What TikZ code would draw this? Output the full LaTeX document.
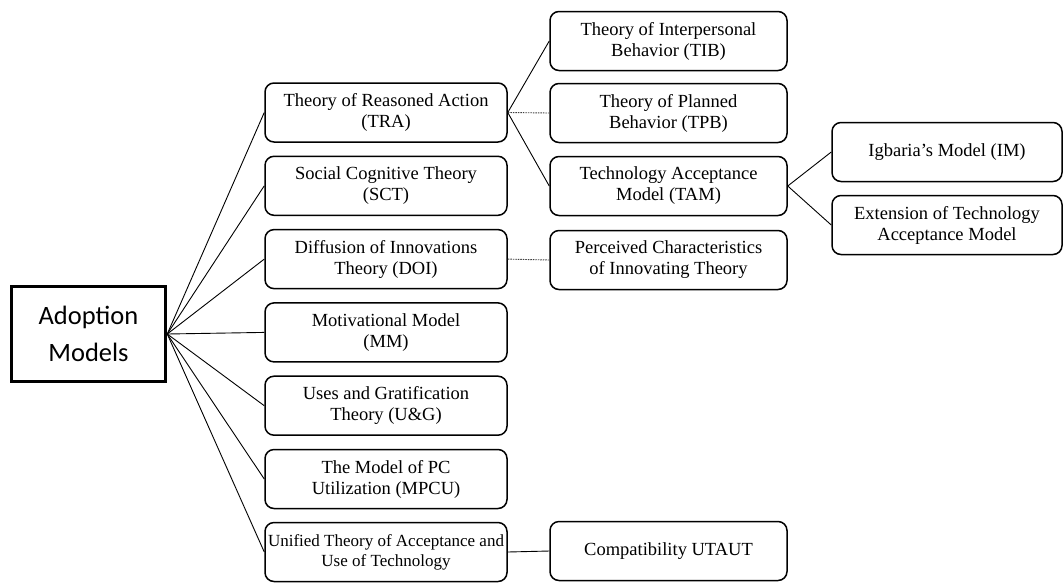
\documentclass[tikz,border=0pt]{standalone}
\usepackage{fontspec}
\setmainfont{Liberation Serif}
\newfontfamily\headfont{Carlito}
\begin{document}
\begin{tikzpicture}[x=1pt,y=-1pt,
  model/.style={draw=black, line width=1.5pt, rounded corners=9pt, rectangle,
    minimum height=59pt, inner sep=0pt, align=center,
    font=\fontsize{18.5}{21}\selectfont},
  leftbox/.style={model, minimum width=242pt},
  midbox/.style={model, minimum width=237pt},
  farbox/.style={model, minimum width=230pt},
  rootbox/.style={draw=black, line width=3.5pt, rectangle, minimum width=154pt,
    minimum height=95pt, inner sep=0pt, align=center,
    font=\headfont\fontsize{26.5}{37}\selectfont},
  link/.style={draw=black, line width=0.9pt},
  weaklink/.style={draw=black!75, line width=0.9pt, dash pattern=on 1.5pt off 1pt}
]
\useasboundingbox (0,0) rectangle (1064,582);

% root
\node[rootbox] (root) at (88.5,334) {Adoption\\Models};

% first level
\node[leftbox] (tra)   at (386,112.5) {Theory of Reasoned Action\\(TRA)};
\node[leftbox] (sct)   at (386,185.8) {Social Cognitive Theory\\(SCT)};
\node[leftbox] (doi)   at (386,259.1) {Diffusion of Innovations\\Theory (DOI)};
\node[leftbox] (mm)    at (386,332.4) {Motivational Model\\(MM)};
\node[leftbox] (ug)    at (386,405.7) {Uses and Gratification\\Theory (U\&G)};
\node[leftbox] (mpcu)  at (386,479.0) {The Model of PC\\Utilization (MPCU)};
\node[leftbox, font=\fontsize{17}{20}\selectfont] (utaut) at (386,552.0)
  {Unified Theory of Acceptance and\\Use of Technology};

% second level
\node[midbox] (tib)  at (668.5,41)  {Theory of Interpersonal\\Behavior (TIB)};
\node[midbox] (tpb)  at (668.5,113) {Theory of Planned\\Behavior (TPB)};
\node[midbox] (tam)  at (668.5,186) {Technology Acceptance\\Model (TAM)};
\node[midbox] (pci)  at (668.5,260) {Perceived Characteristics\\of Innovating Theory};
\node[midbox] (comp) at (668.5,551) {Compatibility UTAUT};

% third level
\node[farbox] (im)  at (947,152) {Igbaria's Model (IM)};
\node[farbox] (ext) at (947,225) {Extension of Technology\\Acceptance Model};

% fan from the root
\foreach \n in {tra,sct,doi,mm,ug,mpcu,utaut}
  \draw[link] (root.east) -- (\n.west);

% branches
\draw[link] (tra.east) -- (tib.west);
\draw[weaklink] (tra.east) -- (tpb.west);
\draw[link] (tra.east) -- (tam.west);
\draw[link] (tam.east) -- (im.west);
\draw[link] (tam.east) -- (ext.west);
\draw[weaklink] (doi.east) -- (pci.west);
\draw[link] (utaut.east) -- (comp.west);
\end{tikzpicture}
\end{document}
